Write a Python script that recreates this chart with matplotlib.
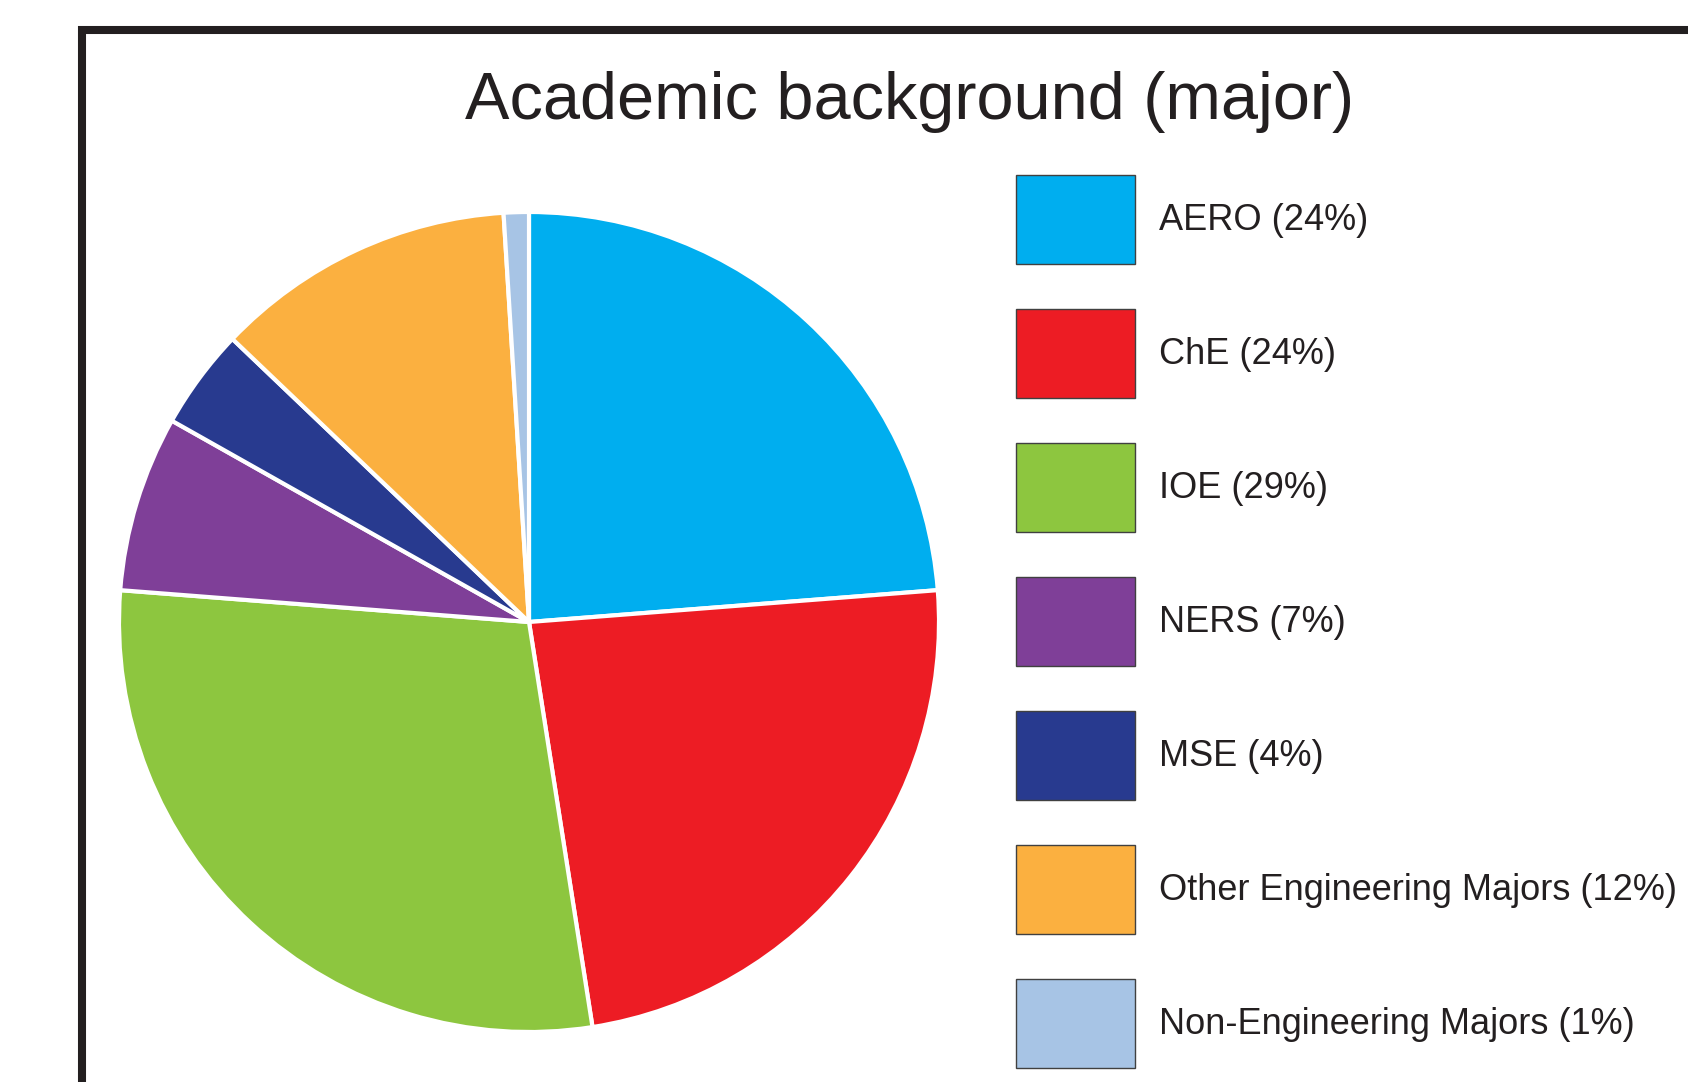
import matplotlib
matplotlib.use('Agg')
import matplotlib.pyplot as plt
from matplotlib.patches import Patch
from matplotlib.lines import Line2D

plt.rcParams['font.family'] = ['Liberation Sans', 'DejaVu Sans']

majors = ['AERO', 'ChE', 'IOE', 'NERS', 'MSE',
          'Other Engineering Majors', 'Non-Engineering Majors']
shares = [24, 24, 29, 7, 4, 12, 1]
colors = ['#00AEEF', '#ED1C24', '#8DC63F', '#7F3F98', '#283A8F',
          '#FBB040', '#A7C4E5']
title = 'Academic background (major)'

W, H = 1688, 1082


def main():
    fig = plt.figure(figsize=(W / 100, H / 100), dpi=100)

    # pie centred at (529, 622) px, radius 410 px
    cx, cy, r = 529, 622, 410
    ax = fig.add_axes([(cx - r) / W, (H - cy - r) / H, 2 * r / W, 2 * r / H])
    ax.pie(shares, colors=colors, startangle=90, counterclock=False,
           wedgeprops=dict(edgecolor='white', linewidth=3))
    ax.set_xlim(-1, 1)
    ax.set_ylim(-1, 1)
    ax.set_aspect('equal')
    ax.axis('off')

    fig.text(910 / W, 1 - 119 / H, title, ha='center', va='baseline',
             fontsize=48, color='#231F20')

    handles = [Patch(facecolor=c, edgecolor='#404040', linewidth=1) for c in colors]
    labels = ['%s (%d%%)' % (m, s) for m, s in zip(majors, shares)]
    fs = 26
    px = fs * 100 / 72
    # legend patch height = fs*(0.65*hh + 0.245)
    hh = (89 / px - 0.245) / 0.65
    fig.legend(handles, labels, loc='upper left',
               bbox_to_anchor=(1016 / W, 1 - 175 / H),
               frameon=False, fontsize=fs, borderpad=0, borderaxespad=0,
               handlelength=119 / px, handleheight=hh,
               handletextpad=24 / px, labelspacing=45 / px,
               labelcolor='#231F20')

    # frame that runs off the right and bottom edges
    fr = '#231F20'
    fig.add_artist(Line2D([82 / W, 82 / W], [1 - 26 / H, -0.01],
                          transform=fig.transFigure, color=fr, lw=5.8,
                          solid_capstyle='butt'))
    fig.add_artist(Line2D([78 / W, 1.01], [1 - 30 / H, 1 - 30 / H],
                          transform=fig.transFigure, color=fr, lw=5.8,
                          solid_capstyle='butt'))

    fig.savefig('out.png', dpi=100, facecolor='white')


if __name__ == '__main__':
    main()
